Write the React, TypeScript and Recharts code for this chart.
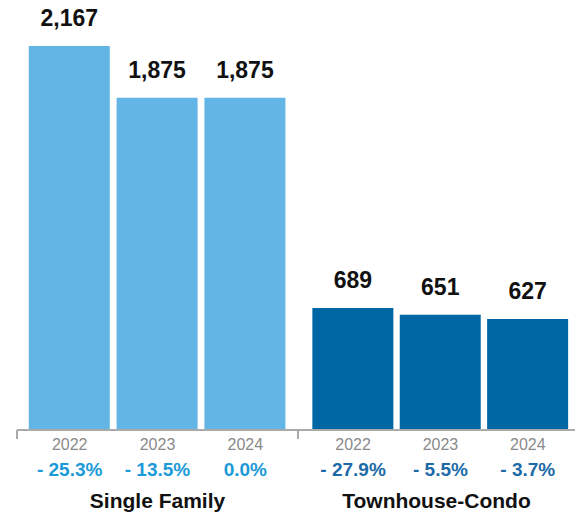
import React from "react";
import { Bar, BarChart, Label, LabelList, XAxis, YAxis } from "recharts";

const years = ["2022", "2023", "2024"];
const singleFamily = [2167, 1875, 1875];
const singleFamilyChange = ["- 25.3%", "- 13.5%", "0.0%"];
const townhouse = [689, 651, 627];
const townhouseChange = ["- 27.9%", "- 5.5%", "- 3.7%"];
const groupNames = ["Single Family", "Townhouse-Condo"];

const FONT = "'Liberation Sans', Arial, Helvetica, sans-serif";
const MAX = 2167;

type GroupProps = {
  width: number;
  values: number[];
  changes: string[];
  name: string;
  fill: string;
  changeColor: string;
  domain: [number, number];
  edges: number[];
  marginLeft: number;
};

const makeTick = (changes: string[], color: string, edges: number[]) => (props: any) => {
  const { x, y, payload } = props;
  const v = payload.value;
  if (edges.includes(v)) {
    return <line x1={x} y1={y} x2={x} y2={y + 9} stroke="#aaaaaa" strokeWidth={2} />;
  }
  if (!Number.isInteger(v)) return <g />;
  return (
    <g>
      <text x={x} y={y + 20} textAnchor="middle" fontSize={16} fill="#8a8a8a" fontFamily={FONT}>
        {years[v]}
      </text>
      <text x={x} y={y + 46} textAnchor="middle" fontSize={19} fontWeight="bold" fill={color} fontFamily={FONT}>
        {changes[v]}
      </text>
    </g>
  );
};

const GroupChart = ({ width, values, changes, name, fill, changeColor, domain, edges, marginLeft }: GroupProps) => {
  const data = years.map((year, i) => ({ pos: i, year, value: values[i] }));
  const tickValues = [domain[0], 0, 1, 2, domain[1]];

  return (
    <BarChart width={width} height={518} data={data} margin={{ top: 46, right: 0, bottom: 0, left: marginLeft }}>
      <XAxis
        dataKey="pos"
        type="number"
        domain={domain}
        ticks={tickValues}
        interval={0}
        allowDataOverflow
        height={88}
        tickSize={0}
        tickMargin={0}
        tickLine={false}
        axisLine={{ stroke: "#aaaaaa", strokeWidth: 2 }}
        tick={makeTick(changes, changeColor, edges)}
      >
        <Label
          value={name}
          position="insideBottom"
          offset={10}
          style={{ fontSize: 21, fontWeight: "bold", fill: "#111111", fontFamily: FONT }}
        />
      </XAxis>
      <YAxis hide domain={[0, MAX]} />
      <Bar dataKey="value" fill={fill} barSize={81} isAnimationActive={false}>
        <LabelList
          dataKey="value"
          position="top"
          offset={20}
          formatter={(v: any) => Number(v).toLocaleString("en-US")}
          style={{ fontSize: 23, fontWeight: "bold", fill: "#111111", fontFamily: FONT }}
        />
      </Bar>
    </BarChart>
  );
};

export default function App() {
  return (
    <div
      style={{
        position: "absolute",
        left: 0,
        top: 0,
        width: 575,
        height: 518,
        display: "flex",
        overflow: "hidden",
        background: "#ffffff",
        fontFamily: FONT,
      }}
    >
      <GroupChart
        width={298}
        values={singleFamily}
        changes={singleFamilyChange}
        name={groupNames[0]}
        fill="#63b5e5"
        changeColor="#1b9ad8"
        domain={[-0.6, 2.6]}
        edges={[-0.6, 2.6]}
        marginLeft={17}
      />
      <GroupChart
        width={277}
        values={townhouse}
        changes={townhouseChange}
        name={groupNames[1]}
        fill="#0067a5"
        changeColor="#1c6aa8"
        domain={[-0.63, 2.54]}
        edges={[-0.63]}
        marginLeft={0}
      />
    </div>
  );
}
